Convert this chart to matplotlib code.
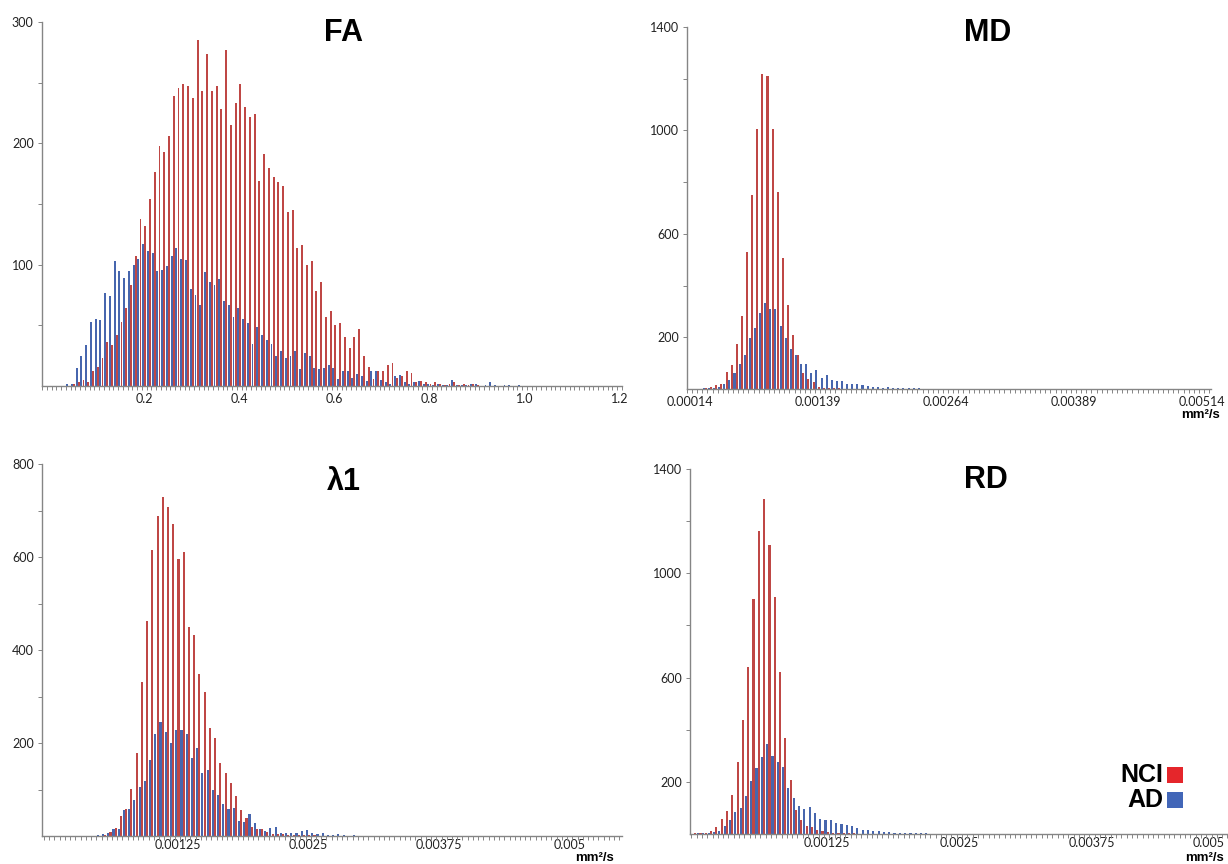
import numpy as np
import matplotlib
matplotlib.use('Agg')
import matplotlib.pyplot as plt
from matplotlib.patches import Rectangle

# ---- data: counts per bin, AD (blue) and NCI (red), bin 0 first ----
FA_START, FA_STEP = 0.0, 0.01
FA_AD = [0, 0, 0, 0, 2, 2, 15, 25, 34, 53,
         55, 54, 77, 74, 103, 95, 89, 95, 100, 105,
         117, 111, 110, 95, 96, 99, 107, 114, 105, 104,
         80, 75, 67, 94, 86, 83, 88, 70, 67, 57,
         64, 55, 52, 35, 49, 42, 38, 35, 25, 29,
         23, 25, 29, 14, 27, 25, 15, 14, 15, 17,
         15, 6, 12, 12, 7, 10, 8, 4, 12, 12,
         5, 3, 2, 8, 9, 3, 2, 3, 4, 2,
         2, 1, 2, 1, 1, 5, 1, 1, 1, 2,
         2, 0, 1, 3, 1, 0, 1, 1, 0, 1]
FA_NCI = [0, 0, 0, 0, 0, 2, 3, 5, 3, 12,
          16, 23, 36, 34, 42, 53, 64, 83, 107, 138,
          132, 154, 176, 198, 193, 206, 239, 246, 249, 247,
          237, 285, 243, 274, 243, 247, 228, 277, 215, 233,
          249, 230, 222, 224, 169, 191, 180, 172, 168, 165,
          143, 145, 114, 116, 100, 103, 78, 86, 57, 62,
          50, 52, 40, 31, 40, 47, 25, 16, 6, 12,
          12, 17, 19, 7, 8, 12, 11, 3, 4, 3,
          2, 3, 2, 1, 2, 3, 1, 2, 1, 2,
          1]

MD_START, MD_STEP = 0.00014, 0.00005
MD_AD = [0, 0, 0, 2, 3, 5, 8, 18, 36, 62,
         98, 133, 199, 234, 292, 331, 311, 311, 243, 199,
         156, 133, 98, 98, 60, 73, 43, 53, 34, 30,
         31, 21, 21, 21, 14, 10, 8, 6, 5, 6,
         3, 4, 3, 2, 3, 2, 1, 1]
MD_NCI = [0, 0, 0, 3, 8, 14, 21, 66, 92, 173,
          281, 528, 750, 1005, 1217, 1211, 1004, 760, 505, 324,
          208, 130, 60, 40, 27, 8, 5, 3, 2, 2,
          1]

L1_START, L1_STEP = 0.0, 0.00005
L1_AD = [0, 0, 0, 0, 0, 0, 0, 0, 0, 1,
         2, 4, 6, 15, 16, 56, 58, 77, 106, 119,
         163, 219, 246, 223, 199, 229, 227, 219, 168, 189,
         135, 143, 99, 88, 68, 58, 61, 32, 31, 47,
         29, 16, 11, 18, 20, 7, 7, 6, 6, 11,
         12, 6, 4, 6, 3, 2, 4, 2, 1, 2,
         1, 0, 1, 1, 0, 1, 0, 0, 1]
L1_NCI = [0, 0, 0, 0, 0, 0, 0, 0, 0, 0,
          0, 3, 9, 18, 42, 58, 101, 179, 332, 463,
          615, 689, 730, 708, 670, 596, 611, 449, 432, 348,
          310, 232, 210, 156, 135, 113, 85, 56, 38, 20,
          16, 16, 8, 5, 5, 4, 3, 3, 2, 3,
          2, 2, 1, 1, 0, 1]

RD_START, RD_STEP = 0.0, 0.00005
RD_AD = [1, 2, 2, 3, 6, 10, 32, 55, 83, 100,
         147, 202, 253, 294, 346, 300, 278, 257, 176, 138,
         106, 96, 103, 80, 57, 55, 55, 42, 38, 33,
         29, 23, 17, 14, 13, 10, 6, 8, 5, 4,
         4, 3, 3, 2, 2, 1, 1]
RD_NCI = [2, 3, 4, 10, 27, 57, 87, 151, 275, 438,
          640, 901, 1164, 1284, 1109, 909, 620, 368, 206, 91,
          55, 29, 27, 16, 13, 9, 5, 4, 3, 2,
          2, 1]

FA_XTICKS = [0.2, 0.4, 0.6, 0.8, 1.0, 1.2]
FA_XLABELS = ['0.2', '0.4', '0.6', '0.8', '1.0', '1.2']
MD_XTICKS = [0.00014, 0.00139, 0.00264, 0.00389, 0.00514]
MD_XLABELS = ['0.00014', '0.00139', '0.00264', '0.00389', '0.00514']
DIFF_XTICKS = [0.00125, 0.0025, 0.00375, 0.005]
DIFF_XLABELS = ['0.00125', '0.0025', '0.00375', '0.005']

# ---- style ----
W, H = 1228, 864
BLUE = '#4766AE'
RED = '#BF4745'
AXIS_GRAY = '#858585'
TICK_FONT = 'Lato'
BOLD_FONT = ['Liberation Sans', 'DejaVu Sans']


def px_box(left, right, top, bottom):
    return [left / W, 1 - bottom / H, (right - left) / W, (bottom - top) / H]


def draw_hist(ax, start, step, ad, nci, kmin, kmax, ymax, ymajor, yminor,
              xticks, xlabels, xpad=5):
    x_ad = start + np.arange(len(ad)) * step
    x_nci = start + np.arange(len(nci)) * step
    ax.bar(x_ad - 0.22 * step, ad, width=0.4 * step, color=BLUE, linewidth=0)
    ax.bar(x_nci + 0.22 * step, nci, width=0.4 * step, color=RED, linewidth=0)
    ax.set_xlim(start + kmin * step, start + kmax * step)
    ax.set_ylim(0, ymax)
    for s in ['top', 'right']:
        ax.spines[s].set_visible(False)
    for s in ['left', 'bottom']:
        ax.spines[s].set_color(AXIS_GRAY)
        ax.spines[s].set_linewidth(1.0)
    ax.set_xticks(xticks)
    ax.set_xticklabels(xlabels, fontfamily=TICK_FONT, fontsize=9)
    bounds = start + (np.arange(int(np.floor(kmin)), int(np.ceil(kmax))) + 0.5) * step
    ax.set_xticks(bounds, minor=True)
    ax.tick_params(axis='x', which='major', length=0, pad=xpad, colors='#222222')
    ax.tick_params(axis='x', which='minor', length=3, width=0.7, color=AXIS_GRAY)
    ax.set_yticks(ymajor)
    ax.set_yticklabels([str(v) for v in ymajor], fontfamily=TICK_FONT, fontsize=9)
    ax.set_yticks(yminor, minor=True)
    ax.tick_params(axis='y', which='both', length=3, width=0.7, color=AXIS_GRAY,
                   pad=3, labelcolor='#222222')
    ax.patch.set_alpha(0)


fig = plt.figure(figsize=(W / 100, H / 100), dpi=100)

ax_fa = fig.add_axes(px_box(42, 622, 22, 386))
draw_hist(ax_fa, FA_START, FA_STEP, FA_AD, FA_NCI, -1.36, 120.1, 300,
          [100, 200, 300], [50, 150, 250], FA_XTICKS, FA_XLABELS)

ax_md = fig.add_axes(px_box(687, 1211, 27, 389))
draw_hist(ax_md, MD_START, MD_STEP, MD_AD, MD_NCI, -0.5, 101.85, 1400,
          [200, 600, 1000, 1400], [400, 800, 1200], MD_XTICKS, MD_XLABELS)

ax_l1 = fig.add_axes(px_box(42, 622, 464, 836))
draw_hist(ax_l1, L1_START, L1_STEP, L1_AD, L1_NCI, -0.88, 110.0, 800,
          [200, 400, 600, 800], [100, 300, 500, 700], DIFF_XTICKS, DIFF_XLABELS,
          xpad=2)

ax_rd = fig.add_axes(px_box(690, 1228, 469, 834))
draw_hist(ax_rd, RD_START, RD_STEP, RD_AD, RD_NCI, -0.75, 100.6, 1400,
          [200, 600, 1000, 1400], [400, 800, 1200], DIFF_XTICKS, DIFF_XLABELS,
          xpad=2)
# last label sits against the right edge of the picture
ax_rd.get_xticklabels()[-1].set_ha('right')

# panel titles
for label, cx, cy in [('FA', 343, 33), ('MD', 988, 33), ('λ1', 344, 482), ('RD', 986, 480)]:
    fig.text(cx / W, 1 - cy / H, label, ha='center', va='center',
             fontsize=22, fontweight='bold', family=BOLD_FONT)

# units
for cx, ty in [(1200, 409), (594, 852), (1205, 852)]:
    fig.text(cx / W, 1 - ty / H, 'mm²/s', ha='center', va='top',
             fontsize=9.5, fontweight='bold', family=BOLD_FONT)

# legend
for label, color, cy in [('NCI', '#E5262B', 775), ('AD', '#4266B8', 800)]:
    fig.text(1163 / W, 1 - cy / H, label, ha='right', va='center',
             fontsize=18, fontweight='bold', family=BOLD_FONT)
    fig.add_artist(Rectangle((1167 / W, 1 - (cy + 8) / H), 16 / W, 16 / H,
                             transform=fig.transFigure, color=color, linewidth=0))

fig.savefig('out.png', dpi=100)
